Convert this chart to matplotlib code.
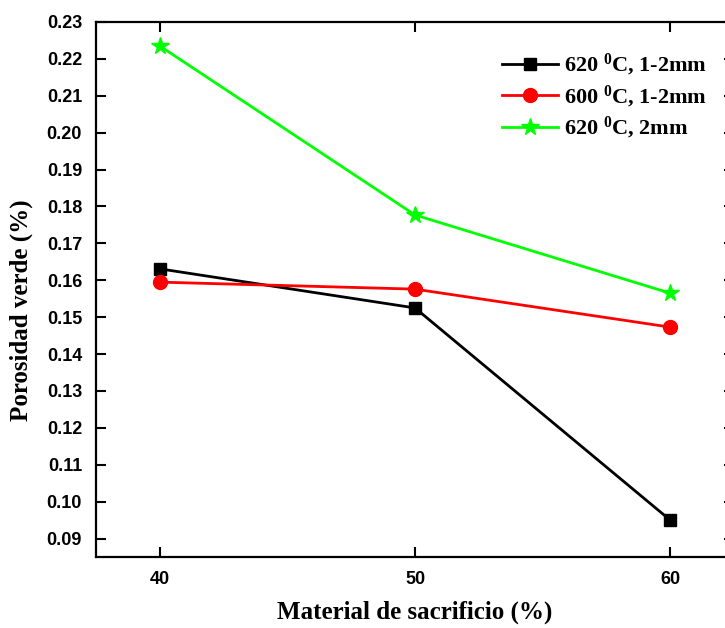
import matplotlib
matplotlib.use('Agg')
import matplotlib.pyplot as plt

plt.rcParams['mathtext.fontset'] = 'custom'
plt.rcParams['mathtext.bf'] = 'Liberation Serif:bold'
plt.rcParams['mathtext.rm'] = 'Liberation Serif:bold'

# data
x = [40, 50, 60]
s_620_12 = [0.1631, 0.1525, 0.0950]
s_600_12 = [0.1595, 0.1576, 0.1473]
s_620_2 = [0.2235, 0.1777, 0.1565]
labels = ['620 $\\mathbf{^0}$C, 1-2mm', '600 $\\mathbf{^0}$C, 1-2mm', '620 $\\mathbf{^0}$C, 2mm']
yticks = [0.09, 0.10, 0.11, 0.12, 0.13, 0.14, 0.15, 0.16, 0.17, 0.18, 0.19, 0.20, 0.21, 0.22, 0.23]

fig = plt.figure(figsize=(7.25, 6.28), dpi=100)
ax = fig.add_axes([96/725, 71/628, 638/725, 535/628])

ax.plot(x, s_620_12, color='black', lw=2, marker='s', ms=8, label=labels[0])
ax.plot(x, s_600_12, color='#ff0000', lw=2, marker='o', ms=10, label=labels[1])
ax.plot(x, s_620_2, color='#00ff00', lw=2, marker='*', ms=13, label=labels[2])

ax.set_xlim(37.5, 62.5)
ax.set_ylim(0.085, 0.23)
ax.set_xticks(x)
ax.set_yticks(yticks)
ax.set_yticklabels([f'{v:.2f}' for v in yticks])
ax.tick_params(direction='in', length=7, width=1.5, top=True, right=True,
               labelsize=13, pad=10)
for lab in ax.get_xticklabels() + ax.get_yticklabels():
    lab.set_fontfamily('Liberation Sans')
    lab.set_fontweight('bold')
for sp in ax.spines.values():
    sp.set_linewidth(1.6)

ax.set_xlabel('Material de sacrificio (%)', fontfamily='Liberation Serif',
              fontweight='bold', fontsize=18, labelpad=9)
ax.set_ylabel('Porosidad verde (%)', fontfamily='Liberation Serif',
              fontweight='bold', fontsize=18)
ax.yaxis.set_label_coords(-0.099, 0.462)

leg = ax.legend(loc='upper left', bbox_to_anchor=(482/725, 1 - 32/628),
                bbox_transform=fig.transFigure, frameon=False,
                prop={'family': 'Liberation Serif', 'weight': 'bold', 'size': 16},
                handlelength=2.5, labelspacing=0.25, handletextpad=0.3)

fig.savefig('out.png', dpi=100)
